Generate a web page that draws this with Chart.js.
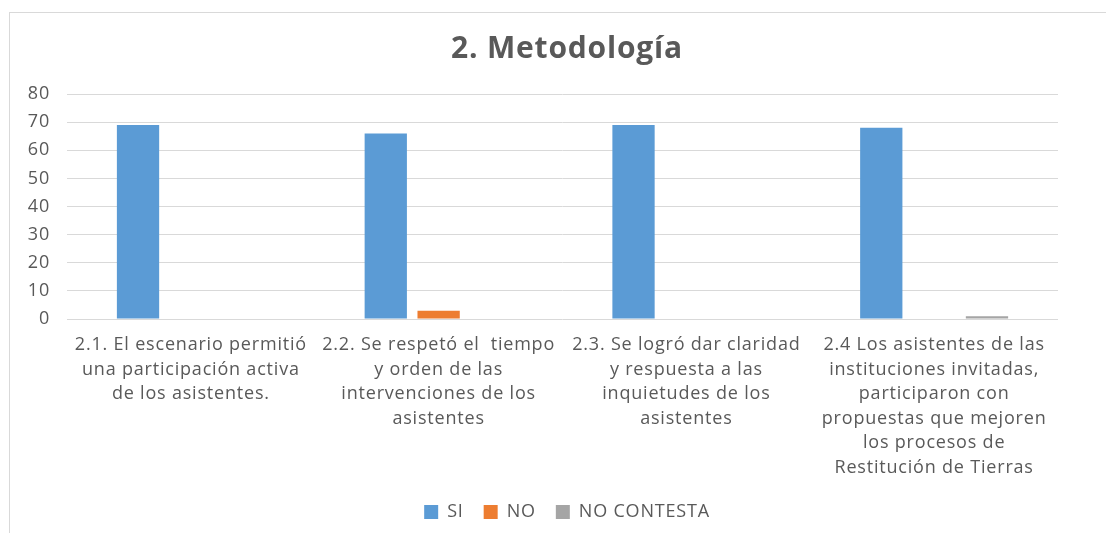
<!DOCTYPE html>
<html>
<head>
<meta charset="utf-8">
<script src="https://cdn.jsdelivr.net/npm/chart.js@4"></script>
<style>
  html, body { margin: 0; padding: 0; background: #ffffff; overflow: hidden; }
  #frame { position: absolute; left: 9px; top: 12px; width: 1300px; height: 700px; border: 1px solid #d9d9d9; box-sizing: border-box; }
  #wrap { position: absolute; left: 0; top: 0; width: 1134px; height: 533px; }
</style>
</head>
<body>
<div id="frame"></div>
<div id="wrap"><canvas id="c"></canvas></div>
<script>
const categories = [
  ["2.1. El escenario permitió", "una participación activa", "de los asistentes."],
  ["2.2. Se respetó el  tiempo", "y orden de las", "intervenciones de los", "asistentes"],
  ["2.3. Se logró dar claridad", "y respuesta a las", "inquietudes de los", "asistentes"],
  ["2.4 Los asistentes de las", "instituciones invitadas,", "participaron con", "propuestas que mejoren", "los procesos de", "Restitución de Tierras"]
];
const seriesNames = ["SI", "NO", "NO CONTESTA"];
const siValues = [69, 66, 69, 68];
const noValues = [0, 3, 0, 0];
const noContestaValues = [0, 0, 0, 1];
const yTicks = [0, 10, 20, 30, 40, 50, 60, 70, 80];
const titleText = "2. Metodología";

const FONT = "'Open Sans', 'DejaVu Sans', sans-serif";
const TXT = "#595959";

const spacing = {
  id: 'spacing',
  beforeLayout(chart) { chart.ctx.letterSpacing = '0.8px'; },
  beforeDraw(chart) { chart.ctx.letterSpacing = '0.8px'; }
};

new Chart(document.getElementById('c'), {
  type: 'bar',
  plugins: [spacing],
  data: {
    labels: categories,
    datasets: [
      { label: seriesNames[0], data: siValues, backgroundColor: '#5B9BD5', borderWidth: 0 },
      { label: seriesNames[1], data: noValues, backgroundColor: '#ED7D31', borderWidth: 0 },
      { label: seriesNames[2], data: noContestaValues, backgroundColor: '#A5A5A5', borderWidth: 0 }
    ]
  },
  options: {
    responsive: true,
    maintainAspectRatio: false,
    animation: false,
    layout: { padding: { left: 0, right: 0, top: 0, bottom: 2 } },
    datasets: { bar: { categoryPercentage: 0.64, barPercentage: 0.8 } },
    plugins: {
      title: {
        display: true, text: titleText, color: TXT,
        font: { family: FONT, size: 30, weight: 'bold', lineHeight: 1.2 },
        padding: { top: 31, bottom: 27 }
      },
      legend: {
        position: 'bottom',
        labels: {
          color: TXT, font: { family: FONT, size: 18 },
          boxWidth: 14, boxHeight: 14, padding: 20
        }
      },
      tooltip: { enabled: false }
    },
    scales: {
      x: {
        grid: { display: false, drawTicks: false },
        border: { display: false },
        ticks: {
          color: TXT, font: { family: FONT, size: 18, lineHeight: 1.36 },
          padding: 14, maxRotation: 0, minRotation: 0, autoSkip: false
        },
        afterFit: s => { s.height = s.height - 11; }
      },
      y: {
        min: 0, max: 80,
        afterBuildTicks: s => { s.ticks = yTicks.map(v => ({ value: v })); },
        grid: { color: '#d9d9d9', lineWidth: 1, drawTicks: false },
        border: { display: false },
        ticks: { color: TXT, font: { family: FONT, size: 18 }, padding: 17 },
        afterFit: s => { s.width = 67; }
      },
      yRight: {
        position: 'right', display: true, min: 0, max: 80,
        grid: { display: false, drawTicks: false },
        border: { display: false },
        ticks: { display: false },
        afterFit: s => { s.width = 76; }
      }
    }
  }
});
</script>
</body>
</html>
